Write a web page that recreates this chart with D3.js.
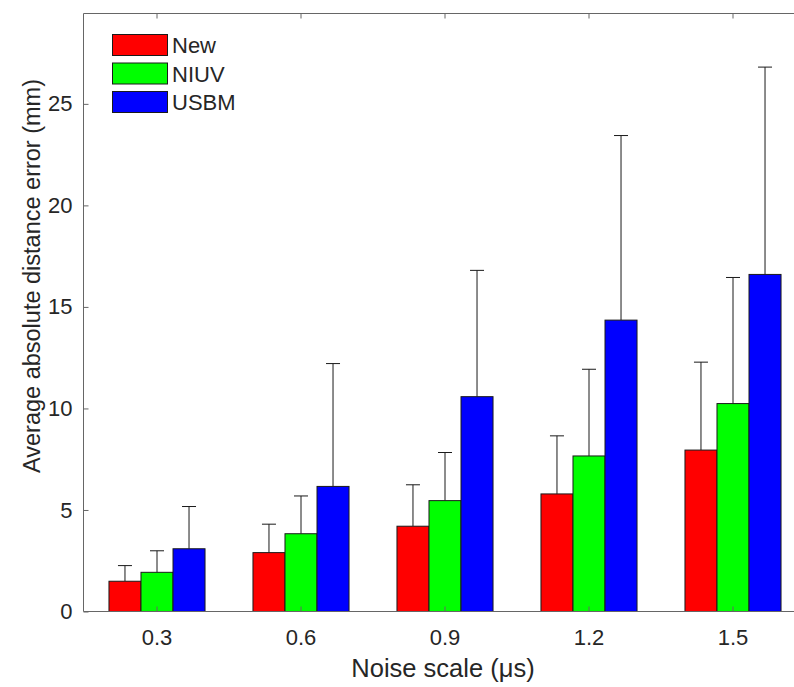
<!DOCTYPE html>
<html>
<head>
<meta charset="utf-8">
<script src="https://cdn.jsdelivr.net/npm/d3@7"></script>
<style>
  html, body { margin: 0; padding: 0; background: #fff; }
  svg text { font-family: "Liberation Sans", Arial, Helvetica, sans-serif; fill: #262626; }
</style>
</head>
<body>
<svg id="chart" width="794" height="687"></svg>
<script>
// Noise scale categories and series
const categories = ["0.3", "0.6", "0.9", "1.2", "1.5"];
const seriesNames = ["New", "NIUV", "USBM"];
const seriesColors = ["#ff0000", "#00ff00", "#0000ff"];

// Mean errors (mm)
const meanNew  = [1.49, 2.90, 4.20, 5.79, 7.95];
const meanNIUV = [1.93, 3.83, 5.46, 7.66, 10.24];
const meanUSBM = [3.09, 6.16, 10.58, 14.35, 16.60];

// Upper ends of error bars (mm)
const upperNew  = [2.26, 4.30, 6.24, 8.65, 12.28];
const upperNIUV = [2.99, 5.69, 7.83, 11.93, 16.45];
const upperUSBM = [5.17, 12.21, 16.80, 23.44, 26.81];

const yTicks = [0, 5, 10, 15, 20, 25];

const means = [meanNew, meanNIUV, meanUSBM];
const uppers = [upperNew, upperNIUV, upperUSBM];

const svg = d3.select("#chart");

const plotLeft = 83.5, plotRight = 805, plotTop = 13.5, plotBottom = 611.5;

const x = d3.scaleBand().domain(categories).range([plotLeft + 1.5, plotRight]).padding(0);
const xs = d3.scaleBand().domain(seriesNames).range([0, x.bandwidth() * 0.667]).padding(0);
const y = d3.scaleLinear().domain([0, 29.45]).range([plotBottom, plotTop]);

const axisColor = "#666666";
const tickFont = 22;

// Bars
const rows = [];
seriesNames.forEach((s, si) => {
  categories.forEach((c, ci) => {
    rows.push({ s, si, c, v: means[si][ci], up: uppers[si][ci] });
  });
});

const barOffset = d => x(d.c) + x.bandwidth() / 2 - xs.range()[1] / 2 + xs(d.s);

// Error bars (upper half) drawn under the bars
const err = svg.append("g").attr("stroke", "#1a1a1a").attr("stroke-width", 1).attr("fill", "none");
rows.forEach(d => {
  const cx = barOffset(d) + xs.bandwidth() / 2;
  err.append("line").attr("x1", cx).attr("x2", cx).attr("y1", y(d.v)).attr("y2", y(d.up));
  err.append("line").attr("x1", cx - 7).attr("x2", cx + 7).attr("y1", y(d.up)).attr("y2", y(d.up));
});

svg.append("g").selectAll("rect").data(rows).join("rect")
  .attr("x", d => barOffset(d))
  .attr("width", xs.bandwidth())
  .attr("y", d => y(d.v))
  .attr("height", d => y(0) - y(d.v))
  .attr("fill", d => seriesColors[d.si])
  .attr("stroke", "#1a1a1a")
  .attr("stroke-width", 1);

// Axes (ticks pointing inward)
const xAxis = d3.axisBottom(x).tickSize(-5).tickPadding(16);
const gx = svg.append("g").attr("transform", `translate(0,${plotBottom})`).call(xAxis);
gx.select(".domain").remove();
gx.selectAll(".tick line").attr("stroke", axisColor);
gx.selectAll(".tick text").attr("font-size", tickFont).attr("y", 18).attr("dy", "0.71em");

const xTop = d3.axisTop(x).tickSize(-5).tickFormat("");
const gxt = svg.append("g").attr("transform", `translate(0,${plotTop})`).call(xTop);
gxt.select(".domain").remove();
gxt.selectAll(".tick line").attr("stroke", axisColor);

const yAxis = d3.axisLeft(y).tickValues(yTicks).tickSize(-5).tickPadding(10);
const gy = svg.append("g").attr("transform", `translate(${plotLeft},0)`).call(yAxis);
gy.select(".domain").remove();
gy.selectAll(".tick line").attr("stroke", axisColor);
gy.selectAll(".tick text").attr("font-size", tickFont).attr("x", -11);

// Frame lines
svg.append("line").attr("x1", plotLeft).attr("x2", 794).attr("y1", plotBottom).attr("y2", plotBottom).attr("stroke", axisColor);
svg.append("line").attr("x1", plotLeft).attr("x2", 794).attr("y1", plotTop).attr("y2", plotTop).attr("stroke", axisColor);
svg.append("line").attr("x1", plotLeft).attr("x2", plotLeft).attr("y1", plotTop).attr("y2", plotBottom).attr("stroke", axisColor);

// Axis titles
svg.append("text").attr("x", 443).attr("y", 677).attr("text-anchor", "middle")
  .attr("font-size", 25.5).text("Noise scale (μs)");
svg.append("text").attr("transform", "translate(40,276) rotate(-90)").attr("text-anchor", "middle")
  .attr("font-size", 23.5).text("Average absolute distance error (mm)");

// Legend
const lg = svg.append("g").attr("transform", "translate(112,34)");
seriesNames.forEach((s, i) => {
  const g = lg.append("g").attr("transform", `translate(0,${i * 28.5})`);
  g.append("rect").attr("x", 0.5).attr("y", 0.5).attr("width", 55).attr("height", 21)
    .attr("fill", seriesColors[i]).attr("stroke", "#1a1a1a").attr("stroke-width", 1);
  g.append("text").attr("x", 60).attr("y", 11.5).attr("dy", "0.35em").attr("font-size", tickFont).text(s);
});
</script>
</body>
</html>
